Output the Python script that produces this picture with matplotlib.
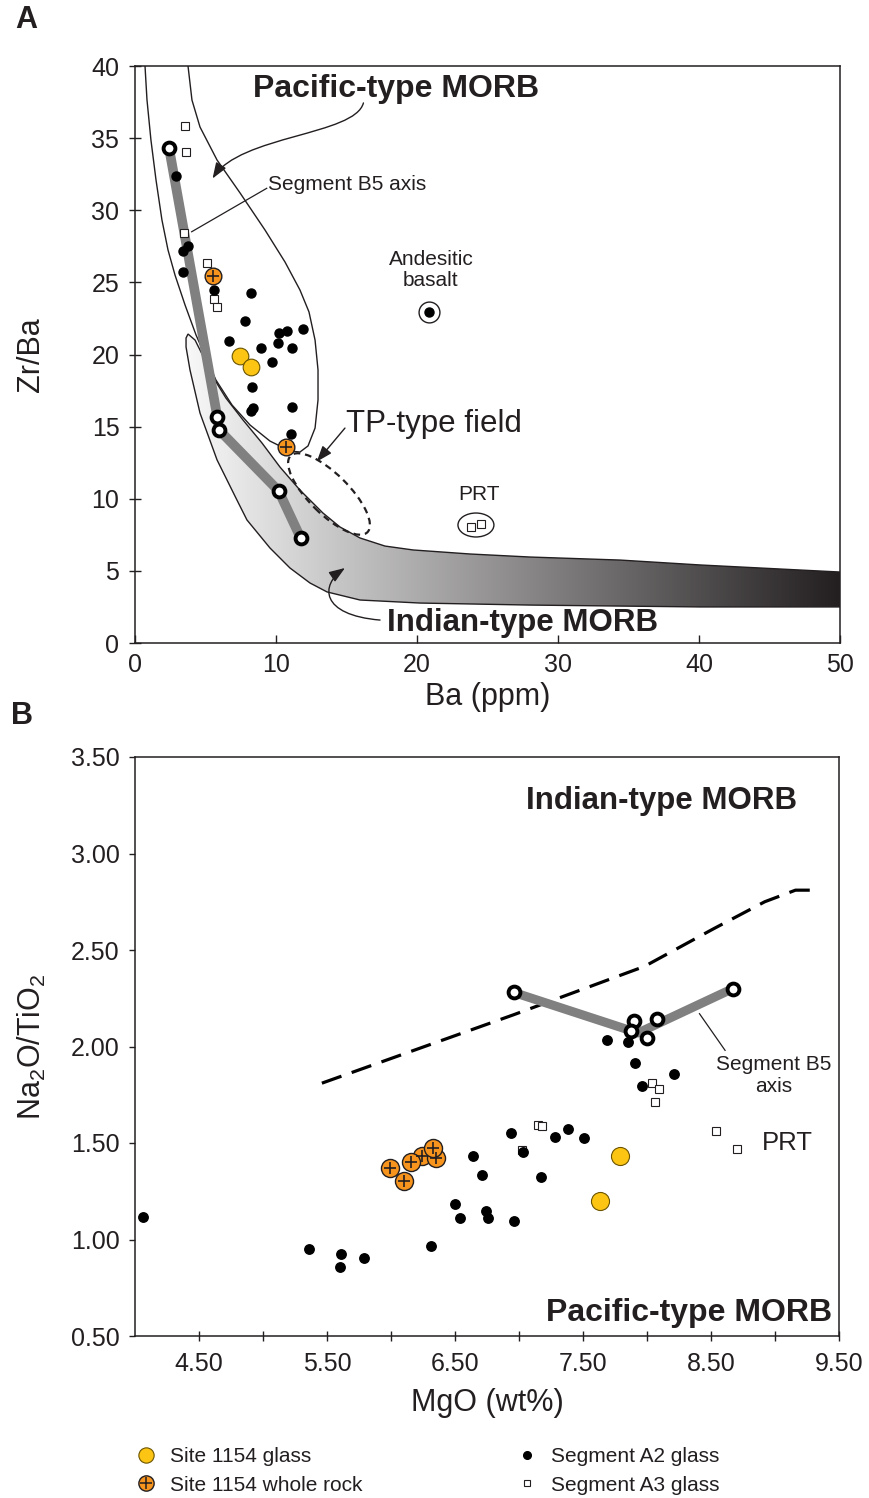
import numpy as np
import matplotlib.pyplot as plt
from matplotlib.patches import Polygon, Ellipse, FancyArrowPatch
from matplotlib.path import Path
from matplotlib.colors import LinearSegmentedColormap
from matplotlib.lines import Line2D

plt.rcParams['font.family'] = ['Liberation Sans', 'DejaVu Sans']
plt.rcParams['mathtext.fontset'] = 'custom'
plt.rcParams['mathtext.rm'] = 'Liberation Sans'
plt.rcParams['mathtext.it'] = 'Liberation Sans:italic'
plt.rcParams['mathtext.bf'] = 'Liberation Sans:bold'

INK = '#231f20'
GLASS = '#fdc513'
GLASS_EDGE = '#6b5400'
ROCK = '#f7941d'
AXIS_GRAY = '#808080'

# ---------------- panel A : Zr/Ba vs Ba (ppm) ----------------
a2_ba = [2.93, 3.78, 3.38, 3.43, 5.58, 8.25, 7.82, 6.69, 8.91, 10.19,
         10.76, 11.94, 10.14, 11.16, 9.72, 8.28, 8.35, 8.21, 11.16, 11.04]
a2_zrba = [32.4, 27.5, 27.2, 25.74, 24.47, 24.24, 22.32, 20.96, 20.47, 21.51,
           21.61, 21.77, 20.82, 20.45, 19.5, 17.77, 16.27, 16.1, 16.38, 14.49]
a3_ba = [3.57, 3.60, 3.50, 5.13, 5.62, 5.84]
a3_zrba = [35.86, 34.02, 28.4, 26.34, 23.87, 23.27]
glass_ba = [7.45, 8.21]
glass_zrba = [19.92, 19.13]
rock_ba = [5.51, 10.71]
rock_zrba = [25.46, 13.61]
b5_ba = [2.41, 5.84, 5.96, 10.19, 11.75]
b5_zrba = [34.34, 15.65, 14.77, 10.54, 7.28]
andes_ba = [20.87]
andes_zrba = [22.97]
prt_ba = [23.83, 24.56]
prt_zrba = [8.06, 8.27]

# field outlines (Ba, Zr/Ba)
pac_ba = [0.69, 0.71, 0.85, 1.13, 1.49, 1.91, 2.34, 2.84, 3.55, 4.33, 5.04, 5.74,
          6.88, 8.16, 9.57, 10.99, 11.70, 12.27, 12.77, 12.98, 12.98, 12.77,
          12.34, 11.70, 10.64, 9.22, 7.45, 5.82, 4.61, 4.04, 3.76, 3.74]
pac_zrba = [40.5, 40.0, 37.65, 34.87, 32.1, 29.33, 27.25, 25.5, 23.43, 21.35, 19.76, 18.23,
            16.5, 15.11, 14.0, 13.31, 13.24, 13.66, 14.9, 16.85, 18.93, 21.0,
            22.95, 24.47, 26.41, 28.63, 31.2, 33.48, 35.77, 37.64, 40.0, 40.5]
ind_ba = [3.76, 4.26, 4.82, 5.53, 6.45, 7.66, 9.01, 10.28, 11.70, 13.33, 14.54,
          15.96, 17.73, 19.72, 23.76, 28.01, 34.40, 40.07, 45.74, 50.0,
          50.0, 40.07, 28.01, 20.21, 15.96, 13.62, 12.41, 10.99, 9.57, 7.94,
          7.23, 5.82, 4.61, 3.90, 3.62, 3.62]
ind_zrba = [21.42, 21.0, 19.9, 18.44, 16.98, 15.46, 13.86, 12.2, 10.6, 9.01, 8.04,
            7.28, 6.72, 6.45, 6.17, 5.96, 5.75, 5.41, 5.13, 4.92,
            2.50, 2.50, 2.63, 2.77, 2.98, 3.54, 4.16, 5.2, 6.59, 8.53,
            9.91, 12.69, 15.94, 18.93, 20.52, 21.14]

# ---------------- panel B : Na2O/TiO2 vs MgO ----------------
a2_mgo = [4.065, 5.36, 5.61, 5.60, 5.79, 6.31, 6.50, 6.54, 6.74, 6.76, 6.96,
          6.64, 6.71, 6.94, 7.03, 7.17, 7.28, 7.38, 7.51, 7.69, 7.85, 7.91,
          8.21, 7.96]
a2_nati = [1.118, 0.952, 0.925, 0.857, 0.906, 0.968, 1.182, 1.113, 1.149, 1.113, 1.097,
           1.434, 1.336, 1.552, 1.452, 1.325, 1.531, 1.574, 1.527, 2.032, 2.025, 1.916,
           1.856, 1.794]
a3_mgo = [7.15, 7.18, 7.02, 8.04, 8.09, 8.06, 8.54, 8.70]
a3_nati = [1.593, 1.587, 1.464, 1.81, 1.78, 1.71, 1.56, 1.467]
glass_mgo = [7.79, 7.63]
glass_nati = [1.433, 1.20]
rock_mgo = [6.24, 6.35, 5.99, 6.10, 6.16, 6.33]
rock_nati = [1.434, 1.42, 1.372, 1.303, 1.40, 1.472]
b5_mgo = [6.96, 8.67, 8.08, 7.90, 7.875, 8.00]
b5_nati = [2.28, 2.30, 2.14, 2.13, 2.08, 2.046]
b5_trend_mgo = [6.96, 7.93, 8.67]
b5_trend_nati = [2.28, 2.07, 2.30]
divide_mgo = [5.46, 6.96, 7.98, 8.52, 8.92, 9.16, 9.28]
divide_nati = [1.81, 2.165, 2.415, 2.61, 2.75, 2.81, 2.81]


def curved_arrow(ax, pts):
    codes = [Path.MOVETO, Path.CURVE4, Path.CURVE4, Path.CURVE4]
    arr = FancyArrowPatch(path=Path(pts, codes), arrowstyle='-|>,head_length=0.6,head_width=0.22',
                          mutation_scale=16, lw=1.0, color=INK, zorder=7)
    ax.add_patch(arr)


fig = plt.figure(figsize=(8.69, 14.98), dpi=100)
axA = fig.add_axes([135 / 869, 1 - 643 / 1498, 705 / 869, 577 / 1498])
axB = fig.add_axes([135 / 869, 1 - 1336 / 1498, 704 / 869, 579 / 1498])

# ---- panel A ----
band = Polygon(np.column_stack([ind_ba, ind_zrba]), closed=True, facecolor='none',
               edgecolor=INK, lw=1.0, zorder=2)
axA.add_patch(band)
cmap = LinearSegmentedColormap.from_list('band', ['#f8f8f8', '#231f20'])
grad = np.linspace(0, 1, 256).reshape(1, -1)
im = axA.imshow(grad, extent=(3.6, 50, 2.4, 21.5), aspect='auto', cmap=cmap,
                origin='lower', zorder=1)
im.set_clip_path(band)
axA.plot(pac_ba, pac_zrba, color=INK, lw=1.0, zorder=2)

axA.plot(b5_ba, b5_zrba, '-', color=AXIS_GRAY, lw=7, solid_capstyle='butt', zorder=3)
axA.plot(a3_ba, a3_zrba, 's', ls='none', ms=5.3, mfc='white', mec=INK, mew=0.8, zorder=4)
axA.plot(a2_ba, a2_zrba, 'o', ls='none', ms=6.5, color='black', zorder=5)
axA.plot(andes_ba, andes_zrba, 'o', ls='none', ms=6.5, color='black', zorder=5)
axA.plot(andes_ba, andes_zrba, 'o', ls='none', ms=15, mfc='none', mec=INK, mew=1.0, zorder=5)
axA.plot(prt_ba, prt_zrba, 's', ls='none', ms=5.3, mfc='white', mec=INK, mew=0.8, zorder=4)
axA.plot(glass_ba, glass_zrba, 'o', ls='none', ms=12, mfc=GLASS, mec=GLASS_EDGE, mew=0.8, zorder=6)
axA.plot(rock_ba, rock_zrba, 'o', ls='none', ms=12, mfc=ROCK, mec=INK, mew=1.0, zorder=6)
axA.plot(rock_ba, rock_zrba, '+', ls='none', ms=8, mec=INK, mew=1.2, zorder=6)
axA.plot(b5_ba, b5_zrba, 'o', ls='none', ms=8.5, mfc='white', mec='black', mew=2.8, zorder=7)

axA.add_patch(Ellipse((24.18, 8.18), 2.55, 1.66, fill=False, ec=INK, lw=1.0))
axA.add_patch(Ellipse((13.76, 10.33), 7.6, 2.8, angle=-44, fill=False, ec=INK, lw=1.6,
                      ls=(0, (3, 2.2))))

axA.text(18.51, 38.4, 'Pacific-type MORB', fontsize=23, fontweight='bold', color=INK,
         ha='center', va='center')
axA.text(27.45, 1.39, 'Indian-type MORB', fontsize=22.5, fontweight='bold', color=INK,
         ha='center', va='center')
axA.text(9.43, 31.8, 'Segment B5 axis', fontsize=15, color=INK, ha='left', va='center')
axA.plot([4.02, 9.34], [28.51, 31.52], color=INK, lw=0.9, zorder=7)
axA.text(20.99, 25.86, 'Andesitic\nbasalt', fontsize=15, color=INK, ha='center', va='center',
         linespacing=1.15)
axA.text(24.4, 10.26, 'PRT', fontsize=15, color=INK, ha='center', va='center')
axA.text(15.0, 15.2, 'TP-type field', fontsize=22.5, color=INK, ha='left', va='center')
axA.annotate('', xy=(12.89, 12.57), xytext=(14.89, 14.9),
             arrowprops=dict(arrowstyle='-|>,head_length=0.6,head_width=0.22', color=INK,
                             lw=1.0, shrinkA=0, shrinkB=0, mutation_scale=16))
curved_arrow(axA, [(16.2, 37.44), (15.6, 35.2), (7.45, 35.2), (5.5, 32.2)])
curved_arrow(axA, [(17.38, 1.59), (13.12, 1.94), (13.12, 4.02), (14.89, 5.2)])

axA.set_xlim(0, 50)
axA.set_ylim(0, 40)
axA.set_xticks([0, 10, 20, 30, 40, 50])
axA.set_yticks(range(0, 41, 5))
axA.tick_params(axis='y', direction='inout', length=8.5, width=1.0, pad=7, labelsize=18,
                colors=INK)
axA.tick_params(axis='x', direction='in', length=5.5, width=1.0, pad=7, labelsize=18,
                colors=INK)
axA.set_xlabel('Ba (ppm)', fontsize=22, color=INK, va='center')
axA.xaxis.set_label_coords(0.5, -0.0936)
axA.set_ylabel('Zr/Ba', fontsize=22, color=INK, va='center', ha='center')
axA.yaxis.set_label_coords(-0.147, 0.5)

# ---- panel B ----
axB.plot(divide_mgo, divide_nati, color='black', lw=2.3, dashes=(6.5, 3.4), zorder=2)
axB.plot(b5_trend_mgo, b5_trend_nati, '-', color=AXIS_GRAY, lw=6.5, solid_capstyle='butt',
         zorder=3)
axB.plot(a3_mgo, a3_nati, 's', ls='none', ms=5.3, mfc='white', mec=INK, mew=0.8, zorder=4)
axB.plot(a2_mgo, a2_nati, 'o', ls='none', ms=6.8, color='black', zorder=5)
axB.plot(glass_mgo, glass_nati, 'o', ls='none', ms=13, mfc=GLASS, mec=GLASS_EDGE, mew=0.8,
         zorder=6)
axB.plot(rock_mgo, rock_nati, 'o', ls='none', ms=13, mfc=ROCK, mec=INK, mew=1.0, zorder=6)
axB.plot(rock_mgo, rock_nati, '+', ls='none', ms=9, mec=INK, mew=1.2, zorder=6)
axB.plot(b5_mgo, b5_nati, 'o', ls='none', ms=8.5, mfc='white', mec='black', mew=2.8, zorder=7)

axB.text(8.11, 3.27, 'Indian-type MORB', fontsize=22.5, fontweight='bold', color=INK,
         ha='center', va='center')
axB.text(8.33, 0.62, 'Pacific-type MORB', fontsize=23, fontweight='bold', color=INK,
         ha='center', va='center')
axB.text(9.10, 1.50, 'PRT', fontsize=18.5, color=INK, ha='center', va='center')
axB.text(8.99, 1.85, 'Segment B5\naxis', fontsize=15, color=INK, ha='center', va='center',
         linespacing=1.15)
axB.plot([8.41, 8.61], [2.17, 1.98], color=INK, lw=0.9, zorder=7)

axB.set_xlim(4.0, 9.5)
axB.set_ylim(0.5, 3.5)
axB.set_xticks([4.5, 5.5, 6.5, 7.5, 8.5, 9.5])
axB.set_xticks([5.0, 6.0, 7.0, 8.0, 9.0], minor=True)
axB.set_xticklabels(['%.2f' % v for v in [4.5, 5.5, 6.5, 7.5, 8.5, 9.5]])
axB.set_yticks([0.5, 1.0, 1.5, 2.0, 2.5, 3.0, 3.5])
axB.set_yticklabels(['%.2f' % v for v in [0.5, 1.0, 1.5, 2.0, 2.5, 3.0, 3.5]])
axB.tick_params(axis='y', direction='out', length=4, width=1.0, pad=7, labelsize=18,
                colors=INK)
axB.tick_params(axis='x', which='both', direction='inout', length=6.5, width=1.0, pad=8,
                labelsize=18, colors=INK)
axB.set_xlabel('MgO (wt%)', fontsize=22, color=INK, va='center')
axB.xaxis.set_label_coords(0.5, -0.1157)
axB.set_ylabel(r'Na$_2$O/TiO$_2$', fontsize=22, color=INK, va='center', ha='center')
axB.yaxis.set_label_coords(-0.147, 0.5)

for ax in (axA, axB):
    for sp in ax.spines.values():
        sp.set_color(INK)
        sp.set_linewidth(1.1)

fig.text(26 / 869, 1 - 20 / 1498, 'A', fontsize=22, fontweight='bold', color=INK,
         ha='center', va='center')
fig.text(22 / 869, 1 - 716 / 1498, 'B', fontsize=22, fontweight='bold', color=INK,
         ha='center', va='center')

# ---- legend ----
h_glass = Line2D([], [], marker='o', ls='none', ms=11, mfc=GLASS, mec=GLASS_EDGE, mew=0.8)
h_rock_c = Line2D([], [], marker='o', ls='none', ms=11, mfc=ROCK, mec=INK, mew=1.0)
h_rock_p = Line2D([], [], marker='+', ls='none', ms=8, mec=INK, mew=1.1)
h_a2 = Line2D([], [], marker='o', ls='none', ms=5.5, color='black')
h_a3 = Line2D([], [], marker='s', ls='none', ms=4.5, mfc='white', mec=INK, mew=0.8)

leg_kw = dict(loc='center left', frameon=False, fontsize=15, handlelength=1.0,
              handletextpad=0.65, borderpad=0, borderaxespad=0, labelspacing=0.45,
              labelcolor=INK)
fig.legend([h_glass, (h_rock_c, h_rock_p)], ['Site 1154 glass', 'Site 1154 whole rock'],
           bbox_to_anchor=(135.6 / 869, 1 - 1471 / 1498), **leg_kw)
fig.legend([h_a2, h_a3], ['Segment A2 glass', 'Segment A3 glass'],
           bbox_to_anchor=(516.6 / 869, 1 - 1471 / 1498), **leg_kw)

fig.savefig('out.png', dpi=100)
